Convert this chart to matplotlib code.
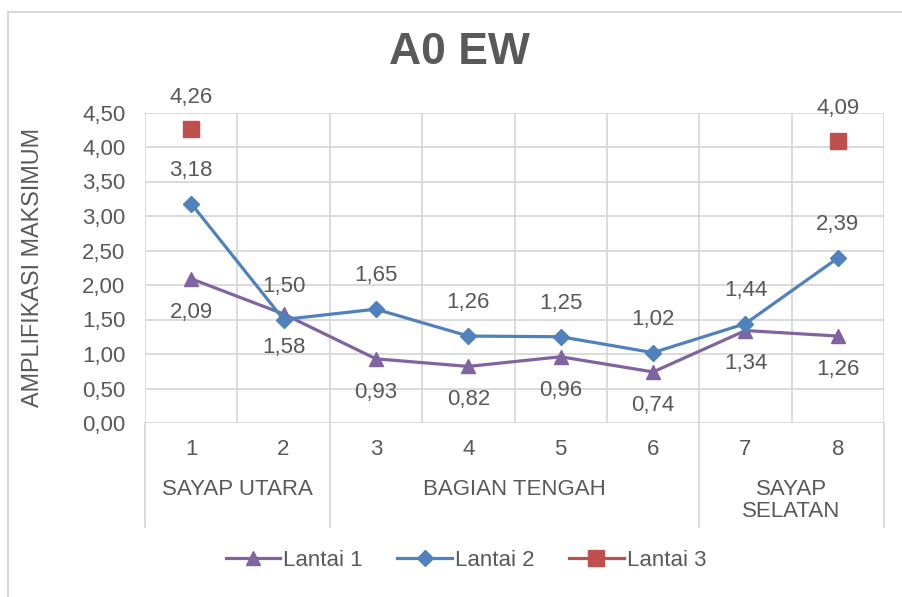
import matplotlib.pyplot as plt
from matplotlib.lines import Line2D
from matplotlib.patches import Rectangle

# data
titik = [1, 2, 3, 4, 5, 6, 7, 8]
tick_labels = ["1", "2", "3", "4", "5", "6", "7", "8"]
lantai_1 = [2.09, 1.58, 0.93, 0.82, 0.96, 0.74, 1.34, 1.26]
lantai_2 = [3.18, 1.50, 1.65, 1.26, 1.25, 1.02, 1.44, 2.39]
lantai_3_x = [1, 8]
lantai_3 = [4.26, 4.09]
group_labels = ["SAYAP UTARA", "BAGIAN TENGAH", "SAYAP\nSELATAN"]
group_bounds = [(0.5, 2.5), (2.5, 6.5), (6.5, 8.5)]
y_ticks = [0, 0.5, 1.0, 1.5, 2.0, 2.5, 3.0, 3.5, 4.0, 4.5]

TXT = "#595959"
GRID = "#D9D9D9"
PURPLE = "#8064A2"
BLUE = "#4F81BD"
RED = "#C0504D"
FONT = "Liberation Sans"
FS = 16


def fmt(v):
    return f"{v:.2f}".replace(".", ",")


plt.rcParams["font.family"] = FONT

fig = plt.figure(figsize=(9.02, 5.97), dpi=100)
fig.patch.set_facecolor("white")

# outer chart border (cut off at right/bottom like the reference)
fig.patches.append(Rectangle((8 / 902, -0.05), 1.2, 1 - 12 / 597 + 0.05,
                             transform=fig.transFigure, fill=False,
                             edgecolor=GRID, linewidth=1.5))

ax = fig.add_axes([145 / 902, 1 - 423 / 597, (884 - 145) / 902, (423 - 112.5) / 597])
ax.set_xlim(0.5, 8.5)
ax.set_ylim(0, 4.5)
for s in ax.spines.values():
    s.set_visible(False)

for y in y_ticks:
    ax.axhline(y, color=GRID, linewidth=1.3, zorder=0)
for x in [0.5 + i for i in range(9)]:
    ax.axvline(x, color=GRID, linewidth=1.3, zorder=0)

# separators of the grouped category axis
xt = ax.get_xaxis_transform()
for x in [0.5, 2.5, 6.5, 8.5]:
    ax.plot([x, x], [0, -0.335], color=GRID, linewidth=1.3, transform=xt, clip_on=False)

ax.set_yticks(y_ticks)
ax.set_yticklabels([fmt(v) for v in y_ticks], fontsize=FS, color=TXT)
ax.tick_params(axis="y", length=0, pad=14)
ax.set_xticks([])

for x, lab in zip(titik, tick_labels):
    ax.text(x, -0.084, lab, transform=xt, ha="center", va="center", fontsize=FS, color=TXT)
for (a, b), lab in zip(group_bounds, group_labels):
    yy = -0.25 if "\n" in lab else -0.213
    ax.text((a + b) / 2, yy, lab, transform=xt, ha="center", va="center",
            fontsize=FS, color=TXT, linespacing=1.05)

ax.set_ylabel("AMPLIFIKASI MAKSIMUM", fontsize=16.8, color=TXT, labelpad=4)
ax.yaxis.set_label_coords(-101 / 739, 0.5)

ax.plot(titik, lantai_1, color=PURPLE, linewidth=2.3, marker="^", markersize=10, clip_on=False, zorder=3)
ax.plot(titik, lantai_2, color=BLUE, linewidth=2.3, marker="D", markersize=8, clip_on=False, zorder=4)
ax.plot(lantai_3_x, lantai_3, color=RED, linewidth=2.3, linestyle="none", marker="s", markersize=11.5,
        clip_on=False, zorder=5)

for x, v in zip(titik, lantai_1):
    ax.annotate(fmt(v), (x, v), xytext=(0, -24), textcoords="offset points", ha="center", va="center",
                fontsize=FS, color=TXT)
for x, v in zip(titik, lantai_2):
    ax.annotate(fmt(v), (x, v), xytext=(0, 24), textcoords="offset points", ha="center", va="center",
                fontsize=FS, color=TXT)
for x, v in zip(lantai_3_x, lantai_3):
    ax.annotate(fmt(v), (x, v), xytext=(0, 23), textcoords="offset points", ha="center", va="center",
                fontsize=FS, color=TXT)

fig.text(459 / 902, 1 - 53 / 597, "A0 EW", ha="center", va="center", fontsize=32,
         fontweight="bold", color=TXT)

handles = [
    Line2D([], [], color=PURPLE, linewidth=2.3, marker="^", markersize=10),
    Line2D([], [], color=BLUE, linewidth=2.3, marker="D", markersize=8),
    Line2D([], [], color=RED, linewidth=2.3, marker="s", markersize=11.5),
]
fig.legend(handles, ["Lantai 1", "Lantai 2", "Lantai 3"], loc="center", bbox_to_anchor=(466 / 902, 1 - 560 / 597),
           ncol=3, frameon=False, fontsize=FS, handlelength=2.45, handletextpad=0.15, columnspacing=1.55,
           labelcolor=TXT)

fig.savefig("out.png", dpi=100)
